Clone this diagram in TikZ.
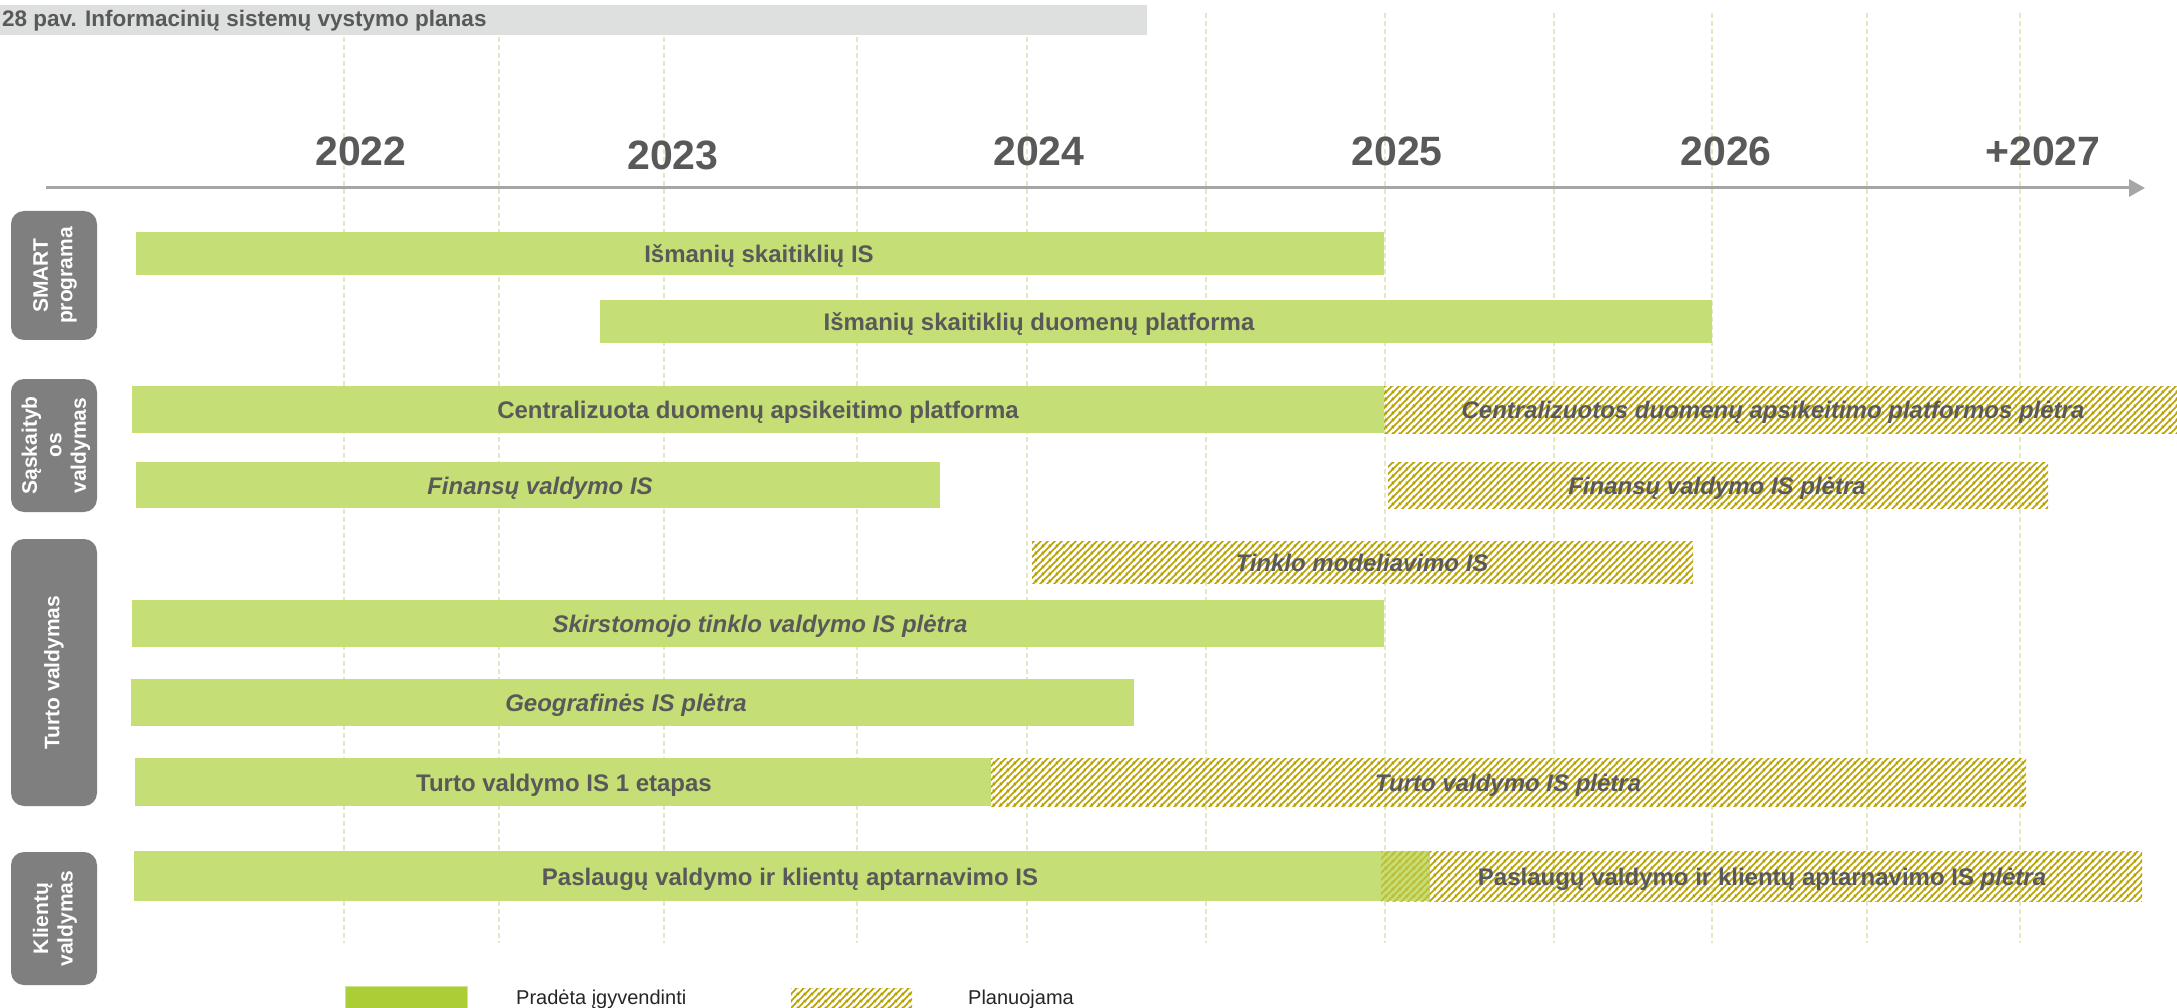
\documentclass[tikz,border=0pt]{standalone}
\usepackage{fontspec}
\setmainfont{Liberation Sans}
\usetikzlibrary{patterns.meta,arrows.meta}

\definecolor{barg}{HTML}{C5DF76}
\definecolor{hatchc}{HTML}{B8A200}
\definecolor{txtc}{HTML}{595959}
\definecolor{catg}{HTML}{7F7F7F}
\definecolor{titleg}{HTML}{DEDFDF}
\definecolor{gridc}{HTML}{E3EBBC}
\definecolor{axisc}{HTML}{A6A6A6}
\definecolor{leggreen}{HTML}{ABCE36}
\definecolor{legtxt}{HTML}{262626}

\tikzdeclarepattern{
  name=hatchpat,
  type=uncolored,
  bottom left={(0pt,0pt)},
  top right={(7pt,7pt)},
  tile size={(7pt,7pt)},
  code={
    \draw[line width=1.8pt] (-1pt,-1pt) -- (8pt,8pt);
    \draw[line width=1.8pt] (-8pt,-1pt) -- (1pt,8pt);
    \draw[line width=1.8pt] (6pt,-1pt) -- (15pt,8pt);
  }
}

\tikzset{
  gridline/.style={draw=gridc, line width=1.2pt, dash pattern=on 5pt off 3pt},
  axisline/.style={draw=axisc, line width=3pt, -{Triangle[length=16pt,width=17pt]}},
  greenbar/.style={fill=barg},
  hatchbar/.style={pattern={hatchpat}, pattern color=hatchc},
  hatchover/.style={pattern={hatchpat}, pattern color=hatchc!55!barg},
  bartxt/.style={anchor=base, inner sep=0pt, text=txtc, font=\fontsize{24}{28}\selectfont\bfseries},
  baritxt/.style={bartxt, font=\fontsize{24}{28}\selectfont\bfseries\itshape},
  yeartxt/.style={anchor=base, inner sep=0pt, text=txtc, font=\fontsize{41}{48}\selectfont\bfseries},
  catbox/.style={fill=catg, rounded corners=13pt},
  cattxt/.style={rotate=90, inner sep=0pt, text=white, align=center, font=\fontsize{21}{24.5}\selectfont\bfseries},
  legtext/.style={anchor=base west, inner sep=0pt, text=legtxt, font=\fontsize{20}{24}\selectfont},
}

\begin{document}
\begin{tikzpicture}[x=1pt,y=-1pt]
\useasboundingbox (0,0) rectangle (2177,1008);
\clip (0,0) rectangle (2177,1008);
\fill[white] (0,0) rectangle (2177,1008);

% axis
\coordinate (axs) at (46,188);
\coordinate (axe) at (2145,188);
\draw[axisline] (axs) -- (axe);

% grid
\foreach \gx in {344,499,664,857,1027,1206,1385,1554,1712,1867,2020}
  \draw[gridline] (\gx,13) -- (\gx,943);

% title
\fill[titleg] (0,5) rectangle (1147,35);
\node[anchor=base west, inner sep=0pt, text=txtc, font=\fontsize{22.5}{26}\selectfont\bfseries] (title) at (2,27) {28 pav. Informacinių sistemų vystymo planas};

% years
\node[yeartxt] (y22) at (361,166) {2022};
\node[yeartxt] (y23) at (673,170) {2023};
\node[yeartxt] (y24) at (1039,166) {2024};
\node[yeartxt] (y25) at (1397,166) {2025};
\node[yeartxt] (y26) at (1726,166) {2026};
\node[yeartxt] (y27) at (2043,166) {+2027};

% row 1
\fill[greenbar] (136,232) rectangle (1384,275);
\node[bartxt] (r1) at (759,262.5) {Išmanių skaitiklių IS};
% row 2
\fill[greenbar] (600,300) rectangle (1712,343);
\node[bartxt] (r2) at (1039,330.5) {Išmanių skaitiklių duomenų platforma};
% row 3
\fill[greenbar] (132,386) rectangle (1384,433);
\node[bartxt] (r3a) at (758,418.5) {Centralizuota duomenų apsikeitimo platforma};
\fill[hatchbar] (1384,386) rectangle (2180,433);
\node[baritxt] (r3b) at (1773,418.5) {Centralizuotos duomenų apsikeitimo platformos plėtra};
% row 4
\fill[greenbar] (136,462) rectangle (940,508);
\node[baritxt] (r4a) at (540,494) {Finansų valdymo IS};
\fill[hatchbar] (1388,462) rectangle (2048,508);
\node[baritxt] (r4b) at (1717,494) {Finansų valdymo IS plėtra};
% row 5
\fill[hatchbar] (1032,541) rectangle (1693,583);
\node[baritxt] (r5) at (1362,571) {Tinklo modeliavimo IS};
% row 6
\fill[greenbar] (132,600) rectangle (1384,647);
\node[baritxt] (r6) at (760,632.5) {Skirstomojo tinklo valdymo IS plėtra};
% row 7
\fill[greenbar] (131,679) rectangle (1134,726);
\node[baritxt] (r7) at (626,711.5) {Geografinės IS plėtra};
% row 8
\fill[greenbar] (135,758) rectangle (991,806);
\node[bartxt] (r8a) at (564,791) {Turto valdymo IS 1 etapas};
\fill[hatchbar] (991,758) rectangle (2026,806);
\node[baritxt] (r8b) at (1508,791) {Turto valdymo IS plėtra};
% row 9
\fill[greenbar] (134,851) rectangle (1430,901);
\fill[hatchover] (1381,851) rectangle (1430,901);
\fill[hatchbar] (1430,851) rectangle (2142,901);
\node[bartxt] (r9a) at (790,885) {Paslaugų valdymo ir klientų aptarnavimo IS};
\node[bartxt] (r9b) at (1762,885) {Paslaugų valdymo ir klientų aptarnavimo IS \textit{plėtra}};

% category boxes
\fill[catbox] (11,211) rectangle (97,340);
\node[cattxt] (c1) at (55,275.5) {SMART\\programa};
\fill[catbox] (11,379) rectangle (97,512);
\node[cattxt] (c2) at (56,445.5) {Sąskaityb\\os\\valdymas};
\fill[catbox] (11,539) rectangle (97,806);
\node[cattxt] (c3) at (54,672.5) {Turto valdymas};
\fill[catbox] (11,852) rectangle (97,985);
\node[cattxt] (c4) at (55,918.5) {Klientų\\valdymas};

% legend
\filldraw[fill=leggreen, draw=leggreen!55!white, line width=1pt] (345,986) rectangle (467,1012);
\node[legtext] (l1) at (516,1004) {Pradėta įgyvendinti};
\fill[hatchbar] (791,988) rectangle (912,1012);
\node[legtext] (l2) at (968,1004) {Planuojama};
\end{tikzpicture}
\end{document}
